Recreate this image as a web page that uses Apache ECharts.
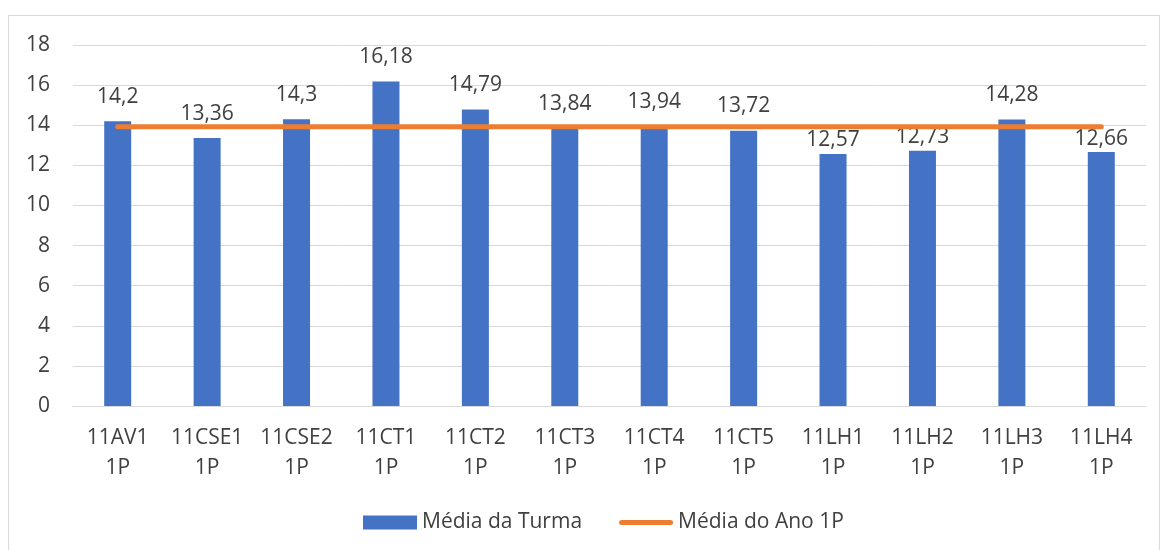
<!DOCTYPE html>
<html>
<head>
<meta charset="utf-8">
<script src="https://cdn.jsdelivr.net/npm/echarts@6/dist/echarts.min.js"></script>
<style>
  html, body { margin: 0; padding: 0; background: #fff; }
  #chart { width: 1164px; height: 550px; }
</style>
</head>
<body>
<div id="chart"></div>
<script>
  const turmas = ['11AV1', '11CSE1', '11CSE2', '11CT1', '11CT2', '11CT3', '11CT4', '11CT5', '11LH1', '11LH2', '11LH3', '11LH4'];
  const periodo = '1P';
  const mediaTurma = [14.2, 13.36, 14.3, 16.18, 14.79, 13.84, 13.94, 13.72, 12.57, 12.73, 14.28, 12.66];
  const mediaAno = 13.92;
  const yTicks = { min: 0, max: 18, interval: 2 };

  const txt = '#404040';
  const font = '"Open Sans", "Noto Sans", sans-serif';
  const fmt = (v) => String(v).replace('.', ',');

  const chart = echarts.init(document.getElementById('chart'));
  chart.setOption({
    animation: false,
    textStyle: { fontFamily: font },
    graphic: [{
      type: 'rect',
      shape: { x: 8.5, y: 15.5, width: 1151, height: 540 },
      style: { fill: 'none', stroke: '#d9d9d9', lineWidth: 1 },
      silent: true
    }],
    grid: { left: 73, right: 18, top: 45, bottom: 144 },
    xAxis: {
      type: 'category',
      data: turmas.map((t) => t + '\n' + periodo),
      axisLine: { lineStyle: { color: '#d9d9d9', width: 1 } },
      axisTick: { show: false },
      axisLabel: { color: txt, fontSize: 21, lineHeight: 30, margin: 17, interval: 0 }
    },
    yAxis: {
      type: 'value',
      min: yTicks.min,
      max: yTicks.max,
      interval: yTicks.interval,
      axisLine: { show: false },
      axisTick: { show: false },
      splitLine: { lineStyle: { color: '#d9d9d9', width: 1 } },
      axisLabel: { color: txt, fontSize: 21, margin: 23 }
    },
    legend: {
      top: 507,
      left: 358,
      itemGap: 37,
      itemWidth: 54,
      itemHeight: 14,
      textStyle: { color: txt, fontSize: 21 },
      data: [
        { name: 'Média da Turma', icon: 'rect' },
        {
          name: 'Média do Ano 1P',
          icon: 'path://M2.5,0 L51.5,0 A2.5,2.5 0 0 1 51.5,5 L2.5,5 A2.5,2.5 0 0 1 2.5,0 Z',
          itemStyle: { color: '#ED7D31' }
        }
      ]
    },
    series: [
      {
        name: 'Média da Turma',
        type: 'bar',
        barWidth: 27,
        itemStyle: { color: '#4472C4' },
        data: mediaTurma.map((v) => ({
          value: v,
          label: { distance: v < mediaAno - 1 ? 3 : 14 }
        })),
        label: {
          show: true,
          position: 'top',
          color: txt,
          fontSize: 21,
          formatter: (p) => fmt(p.value)
        }
      },
      {
        name: 'Média do Ano 1P',
        type: 'line',
        data: turmas.map(() => mediaAno),
        symbol: 'none',
        lineStyle: { color: '#ED7D31', width: 5, cap: 'round' },
        itemStyle: { color: '#ED7D31' },
        z: 3
      }
    ]
  });
</script>
</body>
</html>
